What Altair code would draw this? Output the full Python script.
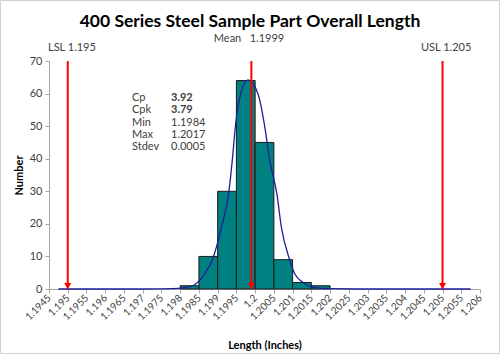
import altair as alt
import pandas as pd

# ---- data ----
bin_start = [1.1980, 1.1985, 1.1990, 1.1995, 1.2000, 1.2005, 1.2010, 1.2015]
bin_end = [1.1985, 1.1990, 1.1995, 1.2000, 1.2005, 1.2010, 1.2015, 1.2020]
counts = [1, 10, 30, 64, 45, 9, 2, 1]

curve_x = [1.19475, 1.1970, 1.1978, 1.1981, 1.19833, 1.19865, 1.19888, 1.1991,
           1.19930, 1.19939, 1.19947, 1.19961, 1.19981, 1.20008, 1.20026,
           1.20039, 1.20058, 1.20070, 1.20092, 1.20106, 1.20128, 1.2016,
           1.2020, 1.2030, 1.20575]
curve_y = [0, 0, 0.1, 0.4, 1.0, 4.6, 9.6, 18.9, 29.9, 39.4, 49.6, 59.8, 64.2,
           59.8, 49.6, 39.4, 29.3, 19.0, 9.0, 4.6, 2.0, 0.4, 0.1, 0, 0]

spec_names = ["LSL", "Mean", "USL"]
spec_values = [1.195, 1.1999, 1.205]

x_ticks = [1.1945, 1.195, 1.1955, 1.196, 1.1965, 1.197, 1.1975, 1.198, 1.1985,
           1.199, 1.1995, 1.2, 1.2005, 1.201, 1.2015, 1.202, 1.2025, 1.203,
           1.2035, 1.204, 1.2045, 1.205, 1.2055, 1.206]
y_ticks = [0, 10, 20, 30, 40, 50, 60, 70]

stat_labels = ["Cp", "Cpk", "Min", "Max", "Stdev"]
stat_values = ["3.92", "3.79", "1.1984", "1.2017", "0.0005"]

title_text = "400 Series Steel Sample Part Overall Length"
mean_text = "Mean\u00a0\u00a0\u00a01.1999"
lsl_text = "LSL 1.195"
usl_text = "USL 1.205"

FONT = "Lato"
W, H = 431, 228

bars_df = pd.DataFrame({"start": bin_start, "end": bin_end, "count": counts,
                        "base": [0] * len(counts)})
curve_df = pd.DataFrame({"x": curve_x, "y": curve_y})
spec_df = pd.DataFrame({"name": spec_names, "value": spec_values,
                        "top": [70] * 3, "bottom": [0] * 3})
one_df = pd.DataFrame({"k": [0]})

xscale = alt.Scale(domain=[x_ticks[0], x_ticks[-1]], nice=False, zero=False)
yscale = alt.Scale(domain=[0, 70], nice=False)

xaxis = alt.Axis(values=x_ticks, format=".4~f", labelAngle=-45, labelAlign="right",
                 labelBaseline="middle", labelFont=FONT, labelFontSize=10,
                 labelColor="#404040", tickColor="#a6a6a6", domainColor="#a6a6a6",
                 tickSize=4, grid=False, title="Length (Inches)", titleFont=FONT,
                 titleFontSize=11, titleFontWeight="bold", titleColor="#000000",
                 titlePadding=18, labelPadding=3, labelOverlap=False, labelFlush=False)
yaxis = alt.Axis(values=y_ticks, labelFont=FONT, labelFontSize=11, labelColor="#404040",
                 tickColor="#a6a6a6", domainColor="#a6a6a6", tickSize=4, grid=False,
                 title="Number", titleFont=FONT, titleFontSize=11, titleFontWeight="bold",
                 titleColor="#000000", titlePadding=5, labelPadding=3)


def X(field):
    return alt.X(field, type="quantitative", scale=xscale, axis=xaxis)


def Y(field):
    return alt.Y(field, type="quantitative", scale=yscale, axis=yaxis)


bars = alt.Chart(bars_df).mark_rect(color="#008080", stroke="#1a1a1a",
                                    strokeWidth=1).encode(
    x=X("start"), x2="end", y=Y("count"), y2="base",
)

curve = alt.Chart(curve_df).mark_line(color="#1f1f9a", strokeWidth=1.3,
                                      interpolate="monotone").encode(
    x=X("x"), y=Y("y"),
)

rules = alt.Chart(spec_df).mark_rule(color="#ff0000", strokeWidth=2).encode(
    x=X("value"), y=Y("top"), y2="bottom",
)
heads = alt.Chart(spec_df).mark_point(shape="triangle-down", filled=True, color="#ff0000",
                                      size=50, opacity=1, yOffset=-3).encode(
    x=X("value"), y=Y("bottom"),
)


def label(text, x, y, size=11, weight="normal", align="left", baseline="alphabetic",
          color="#404040", lh=None):
    kw = dict(text=text, font=FONT, fontSize=size, fontWeight=weight, align=align,
              baseline=baseline, color=color)
    if lh is not None:
        kw["lineHeight"] = lh
    return alt.Chart(one_df).mark_text(**kw).encode(x=alt.value(x), y=alt.value(y))


title = label(title_text, 201, -34, size=17.5, weight="bold", align="center", color="#000000")
mean_lbl = label(mean_text, 200, -19, size=11, align="center")
lsl_lbl = label(lsl_text, -1, -10, size=11)
usl_lbl = label(usl_text, 372, -10, size=11)

LH = 12.3
st_labels = label(stat_labels, 83, 37, size=11, baseline="middle", lh=LH)
st_bold = label(stat_values[:2], 122, 37, size=11, weight="bold", baseline="middle", lh=LH)
st_norm = label(stat_values[2:], 122, 37 + 2 * LH, size=11, baseline="middle", lh=LH)

# light grey outer frame of the chart (decoration)
frame = alt.Chart(one_df).mark_rect(filled=False, stroke="#d0d0d0", strokeWidth=1).encode(
    x=alt.value(-48.5), x2=alt.value(450.5), y=alt.value(-60.5), y2=alt.value(292.5),
)

chart = alt.layer(
    bars, curve, rules, heads, title, mean_lbl, lsl_lbl, usl_lbl,
    st_labels, st_bold, st_norm, frame
).properties(
    width=W, height=H,
    autosize=alt.AutoSizeParams(type="none"),
    padding={"left": 49, "top": 61, "right": 20, "bottom": 65},
    background="white",
).configure_view(stroke=None)

chart.save("out.html", embed_options={"renderer": "svg", "actions": False})
